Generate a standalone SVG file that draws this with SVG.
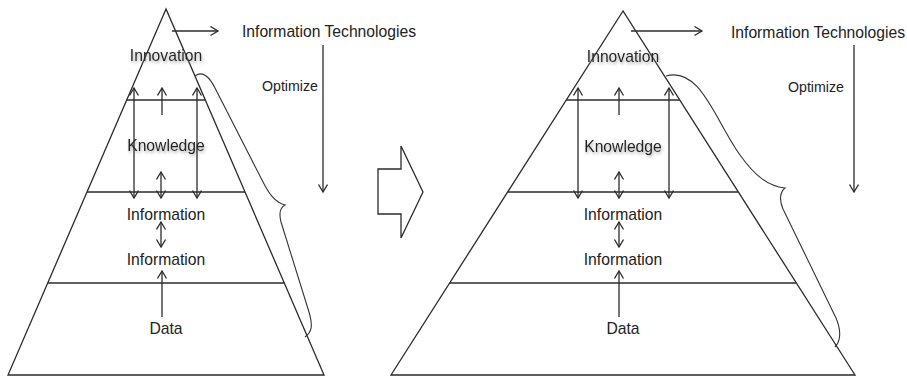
<svg xmlns="http://www.w3.org/2000/svg" width="907" height="376" viewBox="0 0 907 376">
<defs>
<style>
.ln{fill:none;stroke:#2b2b2b;stroke-width:1.3}
.br{fill:none;stroke:#333;stroke-width:1.1}
.ar{fill:none;stroke:#2b2b2b;stroke-width:1.3;marker-end:url(#ah)}
.ar2{fill:none;stroke:#2b2b2b;stroke-width:1.3;marker-end:url(#ah);marker-start:url(#ah)}
text{font-family:"Liberation Sans",Arial,sans-serif;font-size:15.7px;fill:#222;text-anchor:middle}
.sm{font-size:14.2px}
.sh{filter:url(#ds)}
</style>
<marker id="ah" markerUnits="userSpaceOnUse" markerWidth="12" markerHeight="12" refX="8" refY="5" orient="auto-start-reverse">
<path d="M0.5,0.5 L8,5 L0.5,9.5" fill="none" stroke="#2b2b2b" stroke-width="1.3"/>
</marker>
<filter id="ds" x="-10%" y="-30%" width="120%" height="180%">
<feDropShadow dx="1" dy="2" stdDeviation="1.5" flood-color="#888" flood-opacity="0.7"/>
</filter>
</defs>
<rect width="907" height="376" fill="#fff"/>

<g id="left-pyramid">
<polygon class="ln" points="166,9 8,375 324,375"/>
<line class="ln" x1="126.7" y1="100" x2="205.3" y2="100"/>
<line class="ln" x1="87" y1="192" x2="245" y2="192"/>
<line class="ln" x1="47.7" y1="283" x2="284.3" y2="283"/>
</g>
<g id="left-brace">
<path class="br" d="M195,76 C203,70 210,78 215,88 L262,180 C268,192 274,202 285,205 C279,208 279,214 281,222 L309,312 C313,326 312,332 305,337"/>
</g>
<g id="left-labels">
<text id="l-innovation" class="sh" x="166" y="61">Innovation</text>
<text id="l-knowledge" class="sh" x="166" y="151">Knowledge</text>
<text id="l-information1" x="166" y="220">Information</text>
<text id="l-information2" x="166" y="265">Information</text>
<text id="l-data" x="166" y="334">Data</text>
<text id="l-it" x="329" y="37">Information Technologies</text>
<text id="l-optimize" class="sm" x="290" y="91">Optimize</text>
</g>

<g id="block-arrow">
<polygon class="ln" points="378,169 401,169 401,146 423,192 401,238 401,214 378,214"/>
</g>

<g id="right-pyramid">
<polygon class="ln" points="623,11 391,375 855,375"/>
<line class="ln" x1="566.3" y1="100" x2="679.7" y2="100"/>
<line class="ln" x1="507.6" y1="192" x2="738.4" y2="192"/>
<line class="ln" x1="449.7" y1="283" x2="796.3" y2="283"/>
</g>
<g id="right-brace">
<path class="br" d="M666,76 C700,66 715,120 740,155 C755,176 768,186 785,188 C780,192 779,200 783,209 L836,318 C842,332 840,342 835,347"/>
</g>
<g id="right-labels">
<text id="r-innovation" class="sh" x="623" y="62">Innovation</text>
<text id="r-knowledge" class="sh" x="623" y="152">Knowledge</text>
<text id="r-information1" x="623" y="220">Information</text>
<text id="r-information2" x="623" y="265">Information</text>
<text id="r-data" x="623" y="334">Data</text>
<text id="r-it" x="818" y="38">Information Technologies</text>
<text id="r-optimize" class="sm" x="816" y="92">Optimize</text>
</g>

<g id="connectors">
<line class="ar" x1="172" y1="31" x2="218" y2="31"/>
<line class="ar" x1="323" y1="45" x2="323" y2="192"/>
<line class="ar2" x1="134" y1="88" x2="134" y2="198"/>
<line class="ar2" x1="197" y1="88" x2="197" y2="198"/>
<line class="ar" x1="162" y1="115" x2="162" y2="88"/>
<line class="ar2" x1="161" y1="172" x2="161" y2="198"/>
<line class="ar2" x1="161" y1="222" x2="161" y2="247"/>
<line class="ar" x1="162" y1="317" x2="162" y2="271"/>

<line class="ar" x1="631" y1="31" x2="702" y2="31"/>
<line class="ar" x1="854" y1="45" x2="854" y2="192"/>
<line class="ar2" x1="578" y1="88" x2="578" y2="198"/>
<line class="ar2" x1="669" y1="88" x2="669" y2="198"/>
<line class="ar" x1="619" y1="115" x2="619" y2="88"/>
<line class="ar2" x1="619" y1="172" x2="619" y2="198"/>
<line class="ar2" x1="619" y1="222" x2="619" y2="247"/>
<line class="ar" x1="619" y1="317" x2="619" y2="271"/>
</g>
</svg>
